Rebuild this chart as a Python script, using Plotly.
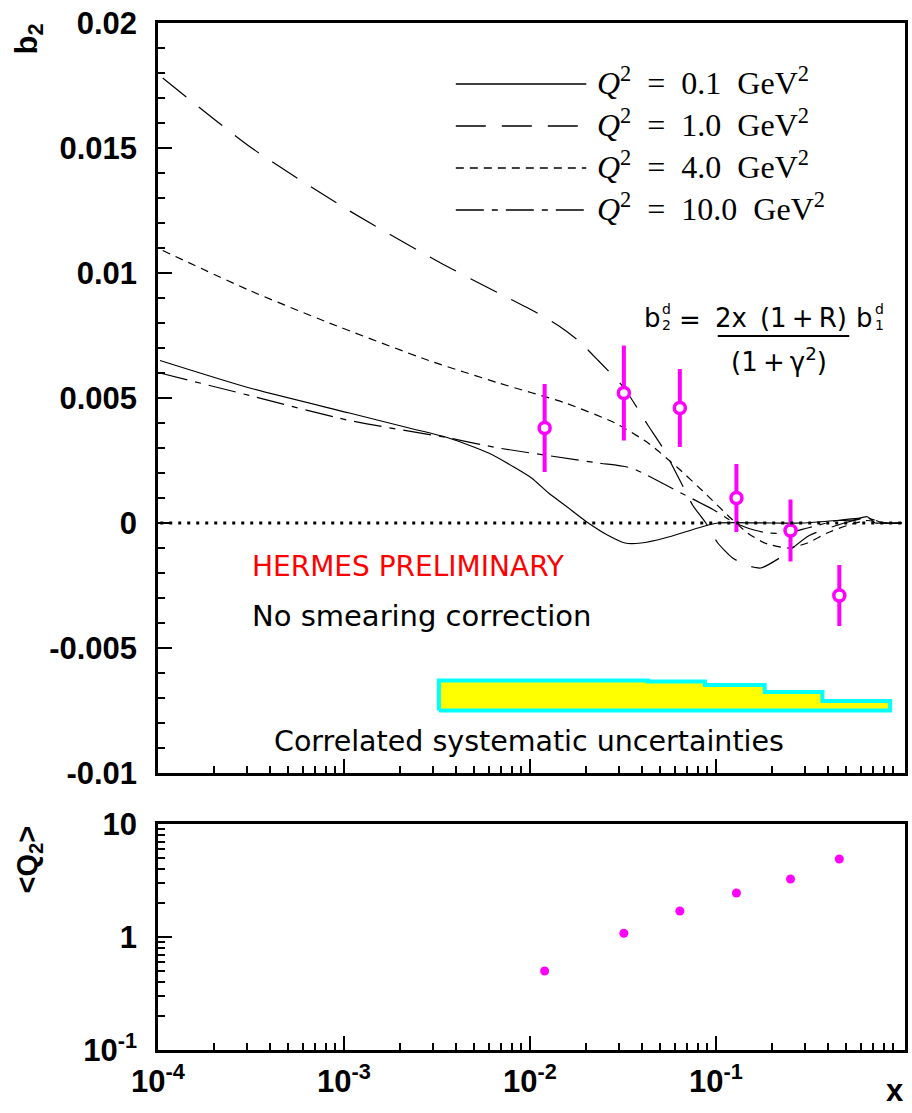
import plotly.graph_objects as go

# ---------------- data ----------------
# theory curves  b2(x) for several Q^2
x_q01 = [1.025e-4, 3.11e-4, 1.07e-3, 2.24e-3, 3.66e-3, 6.0e-3, 8.37e-3, 1.02e-2, 1.26e-2, 1.55e-2,
         2.06e-2, 2.64e-2, 3.25e-2, 3.96e-2, 5.32e-2, 8.0e-2, 0.1024, 0.2, 0.3, 0.45, 0.55, 0.651,
         0.72, 0.8, 1.0]
y_q01 = [0.0065, 0.0054, 0.0044, 0.0038, 0.0034, 0.0028, 0.0022, 0.0018, 0.0012, 0.0007,
         0.0, -0.0005, -0.0008, -0.0008, -0.0006, -0.0002, 0.0, 0.0, 0.0, 0.0001, 0.00012, 0.00025,
         0.0, 0.0, 0.0]

x_q1 = [1.06e-4, 3.19e-4, 1.03e-3, 3.24e-3, 5.85e-3, 1.07e-2, 1.42e-2, 1.82e-2, 2.33e-2, 3.21e-2,
        4.32e-2, 5.19e-2, 6.41e-2, 7.52e-2, 8.83e-2, 0.1024, 0.123, 0.148, 0.174, 0.22, 0.318,
        0.49, 0.651, 0.8, 1.0]
y_q1 = [0.0178, 0.0150, 0.01256, 0.01044, 0.00944, 0.00844, 0.0079, 0.0073, 0.0065, 0.0054,
        0.0039, 0.0030, 0.0017, 0.0007, 0.0, -0.0008, -0.0014, -0.0017, -0.0018, -0.0014, -0.0005,
        0.0, 0.0002, 0.0, 0.0]

x_q4 = [1.06e-4, 3.11e-4, 8.34e-4, 2.86e-3, 6.79e-3, 1.55e-2, 2.87e-2, 4.32e-2, 6.25e-2, 8.72e-2,
        0.120, 0.148, 0.183, 0.243, 0.311, 0.397, 0.508, 0.651, 0.8, 1.0]
y_q4 = [0.0109, 0.0093, 0.0080, 0.0065, 0.0056, 0.0048, 0.0040, 0.0032, 0.0022, 0.0012,
        0.0002, -0.0004, -0.0008, -0.0010, -0.0008, -0.0004, -0.0001, 0.0001, 0.0, 0.0]

x_q10 = [1.025e-4, 3.11e-4, 1.07e-3, 3.66e-3, 6.79e-3, 2.33e-2, 3.50e-2, 6.49e-2, 9.86e-2, 0.120,
         0.148, 0.190, 0.243, 0.311, 0.45, 0.651, 0.8, 1.0]
y_q10 = [0.0060, 0.0051, 0.0041, 0.0034, 0.0030, 0.0024, 0.0022, 0.0012, 0.0005, 0.0001,
         -0.0002, -0.0004, -0.0004, -0.0002, 0.0001, 0.0002, 0.0, 0.0]

# HERMES data points
x_data = [0.012, 0.032, 0.064, 0.129, 0.252, 0.461]
b2_data = [0.0038, 0.0052, 0.0046, 0.0010, -0.0003, -0.0029]
b2_err = [0.00176, 0.0019, 0.00156, 0.00136, 0.00124, 0.00122]
q2_mean = [0.50, 1.08, 1.70, 2.45, 3.26, 4.9]

# correlated systematic band
sys_edges = [0.00324, 0.0431, 0.0873, 0.183, 0.374, 0.865]
sys_top = [-0.0063, -0.00634, -0.00648, -0.00676, -0.00712]
sys_base = -0.0075

# tick labels
x_tickvals = [1e-4, 1e-3, 1e-2, 1e-1]
x_ticktext = ["10<sup>-4</sup>", "10<sup>-3</sup>", "10<sup>-2</sup>", "10<sup>-1</sup>"]
y_tickvals = [0.02, 0.015, 0.01, 0.005, 0, -0.005, -0.01]
y_ticktext = ["0.02", "0.015", "0.01", "0.005", "0", "-0.005", "-0.01"]
q_tickvals = [0.1, 1, 10]
q_ticktext = ["10<sup>-1</sup>", "1", "10"]

EN = "\u2002"
legend_labels = [f"<i>Q</i><sup>2</sup>{EN}={EN}0.1{EN}GeV<sup>2</sup>",
                 f"<i>Q</i><sup>2</sup>{EN}={EN}1.0{EN}GeV<sup>2</sup>",
                 f"<i>Q</i><sup>2</sup>{EN}={EN}4.0{EN}GeV<sup>2</sup>",
                 f"<i>Q</i><sup>2</sup>{EN}={EN}10.0{EN}GeV<sup>2</sup>"]

# ---------------- styling helpers ----------------
W, H = 912, 1113
L, R, T, B = 158, 4, 23, 63
PW, PH = W - L - R, H - T - B


def px(xp):
    return (xp - L) / PW


def py(yp):
    return (H - B - yp) / PH


MAG = "#FF00FF"
dashes = ["solid", "30px,16px", "8px,6px", "28px,8px,6px,8px"]

fig = go.Figure()

# systematic band as step polygon
bx, by = [sys_edges[0]], [sys_base]
for i, t in enumerate(sys_top):
    bx += [sys_edges[i], sys_edges[i + 1]]
    by += [t, t]
bx += [sys_edges[-1], sys_edges[0]]
by += [sys_base, sys_base]
fig.add_trace(go.Scatter(x=bx, y=by, mode="lines", fill="toself", fillcolor="#FFFF00",
                         line=dict(color="#00FFFF", width=4), xaxis="x", yaxis="y",
                         hoverinfo="skip", showlegend=False))

curves = [(x_q01, y_q01), (x_q1, y_q1), (x_q4, y_q4), (x_q10, y_q10)]
for (cx, cy), d in zip(curves, dashes):
    fig.add_trace(go.Scatter(x=cx, y=cy, mode="lines",
                             line=dict(color="black", width=1.2, dash=d, shape="spline", smoothing=0.6),
                             xaxis="x", yaxis="y", showlegend=False))

fig.add_trace(go.Scatter(x=x_data, y=b2_data, mode="markers",
                         error_y=dict(type="data", array=b2_err, color=MAG, thickness=4, width=0),
                         marker=dict(symbol="circle", size=11, color="white",
                                     line=dict(color=MAG, width=3.5)),
                         xaxis="x", yaxis="y", showlegend=False))

fig.add_trace(go.Scatter(x=x_data, y=q2_mean, mode="markers",
                         marker=dict(symbol="circle", size=9, color=MAG),
                         xaxis="x2", yaxis="y2", showlegend=False))

minor_x = [k * 10 ** e for e in range(-4, 0) for k in range(2, 10)]
minor_q = [k * 10 ** e for e in range(-1, 1) for k in range(2, 10)]

tickfont = dict(family="Liberation Sans", size=31, color="black", weight="bold")
axis_common = dict(showline=True, linecolor="black", linewidth=2.5, mirror=True,
                   showgrid=False, zeroline=False, ticks="inside", tickcolor="black",
                   tickwidth=2, ticklen=14)

fig.update_layout(
    width=W, height=H, margin=dict(l=L, r=R, t=T, b=B),
    paper_bgcolor="white", plot_bgcolor="white", showlegend=False,
    xaxis=dict(type="log", range=[-4, 0.017], domain=[0, 1], anchor="y",
               tickvals=x_tickvals, ticktext=x_ticktext, showticklabels=False,
               minor=dict(tickvals=minor_x, ticks="inside", ticklen=7, tickwidth=1.5, tickcolor="black"),
               **axis_common),
    yaxis=dict(range=[-0.01, 0.02], domain=[py(773), 1], anchor="x",
               tickvals=y_tickvals, ticktext=y_ticktext, tickfont=tickfont,
               ticklabelstandoff=12,
               minor=dict(dtick=0.001, tick0=0, ticks="inside", ticklen=7, tickwidth=1.5, tickcolor="black"),
               **axis_common),
    xaxis2=dict(type="log", range=[-4, 0.017], domain=[0, 1], anchor="y2",
                tickvals=x_tickvals, ticktext=x_ticktext, tickfont=tickfont,
                ticklabelstandoff=2,
                minor=dict(tickvals=minor_x, ticks="inside", ticklen=7, tickwidth=1.5, tickcolor="black"),
                **axis_common),
    yaxis2=dict(type="log", range=[-1, 1], domain=[0, py(824)], anchor="x2",
                tickvals=q_tickvals, ticktext=q_ticktext, tickfont=tickfont,
                ticklabelstandoff=12,
                minor=dict(tickvals=minor_q, ticks="inside", ticklen=7, tickwidth=1.5, tickcolor="black"),
                **axis_common),
)

shapes = []
# dotted zero line
shapes.append(dict(type="line", xref="x domain", yref="y", x0=0.003, x1=1, y0=0, y1=0,
                   line=dict(color="black", width=3, dash="3px,6px")))
# legend samples
leg_y = [84, 126, 168, 210]
for yy, d in zip(leg_y, dashes):
    shapes.append(dict(type="line", xref="paper", yref="paper", x0=px(457), x1=px(588),
                       y0=py(yy), y1=py(yy), line=dict(color="black", width=1.3, dash=d)))
# fraction bar
shapes.append(dict(type="line", xref="paper", yref="paper", x0=px(720), x1=px(852),
                   y0=py(336), y1=py(336), line=dict(color="black", width=2)))
fig.update_layout(shapes=shapes)

ann = []
serif = dict(family="Liberation Serif", size=32, color="black")
for yy, txt in zip(leg_y, legend_labels):
    ann.append(dict(x=px(597), y=py(yy - 3), xref="paper", yref="paper", text=txt,
                    showarrow=False, xanchor="left", yanchor="middle", font=serif))

sans = "DejaVu Sans"
def add_text(x, y, text, size, color="black", xanchor="left"):
    ann.append(dict(x=px(x), y=py(y), xref="paper", yref="paper", text=text, showarrow=False,
                    xanchor=xanchor, yanchor="middle", font=dict(family=sans, size=size, color=color)))

# formula
add_text(654, 318, "b", 26, xanchor="center")
add_text(669, 309, "d", 14, xanchor="center")
add_text(669, 325, "2", 14, xanchor="center")
add_text(692, 320, "=", 26, xanchor="center")
add_text(784, 318, "2x\u2002(1\u2009+\u2009R)", 26, xanchor="center")
add_text(781, 360, "(1\u2009+\u2009γ<sup>2</sup>)", 26, xanchor="center")
add_text(867, 318, "b", 26, xanchor="center")
add_text(882, 309, "d", 14, xanchor="center")
add_text(882, 325, "1", 14, xanchor="center")

add_text(250, 566, "HERMES PRELIMINARY", 28, color="#FF0000")
add_text(250, 616, "No smearing correction", 29)
add_text(272, 741, "Correlated systematic uncertainties", 28.5)

boldf = dict(family="Liberation Sans", size=31, color="black", weight="bold")
ann.append(dict(x=px(28), y=py(39), xref="paper", yref="paper", text="b<sub>2</sub>",
                showarrow=False, textangle=-90, xanchor="center", yanchor="middle", font=boldf))
ann.append(dict(x=px(28), y=py(860), xref="paper", yref="paper", text="&lt;Q<sub>2</sub>&gt;",
                showarrow=False, textangle=-90, xanchor="center", yanchor="middle",
                font=dict(family="Liberation Sans", size=29, color="black", weight="bold")))
ann.append(dict(x=px(898), y=py(1090), xref="paper", yref="paper", text="x",
                showarrow=False, xanchor="center", yanchor="middle", font=boldf))
fig.update_layout(annotations=ann)

fig.write_html("out.html")
